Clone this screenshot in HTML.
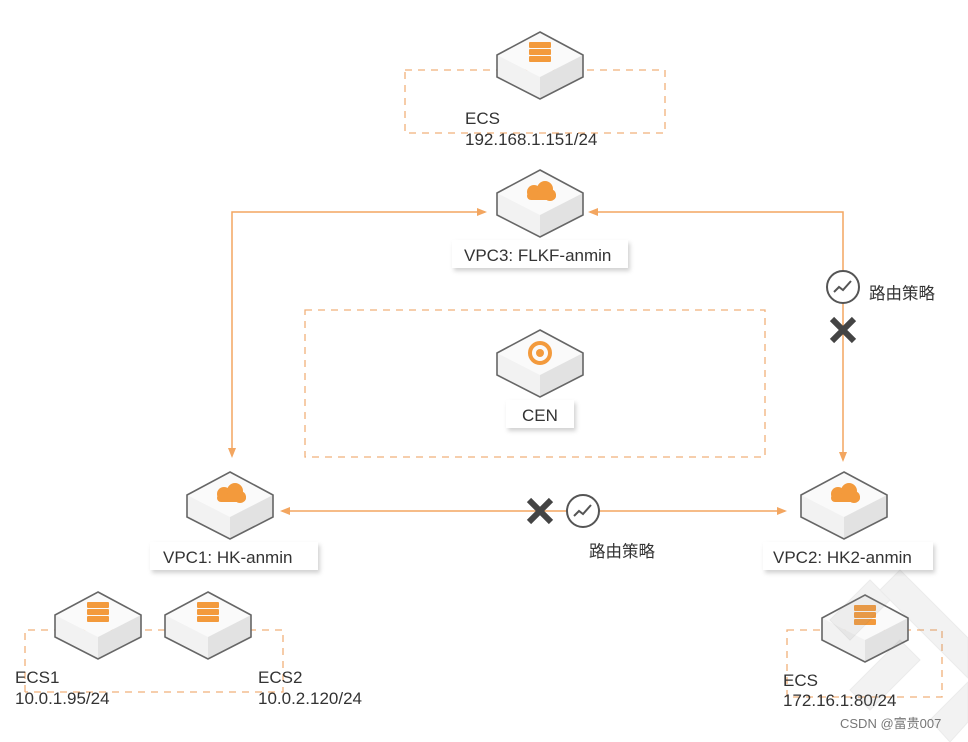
<!DOCTYPE html>
<html><head><meta charset="utf-8"><style>
html,body{margin:0;padding:0;background:#fff;}
svg{display:block;}
text{font-family:"Liberation Sans","Noto Sans CJK SC",sans-serif;fill:#333;}
</style></head><body>
<svg width="968" height="742" viewBox="0 0 968 742" xmlns="http://www.w3.org/2000/svg">
<defs>
<filter id="sh" x="-10%" y="-20%" width="130%" height="160%"><feDropShadow dx="2" dy="3" stdDeviation="2" flood-color="#000" flood-opacity="0.18"/></filter>
<g id="cube">
<path d="M-43,23 L0,45 L43,23 L0,0 Z" fill="#fafafa"/>
<path d="M0,45 L43,23 L43,45 L0,67 Z" fill="#e2e2e2"/>
<path d="M0,45 L-43,23 L-43,45 L0,67 Z" fill="#f2f2f2"/>
<path d="M0,0 L43,23 L43,45 L0,67 L-43,45 L-43,23 Z" fill="none" stroke="#666" stroke-width="1.6"/>
</g>
<g id="srv"><rect x="-11" y="10" width="22" height="6" rx="1" fill="#f39a3c"/><rect x="-11" y="17" width="22" height="6" rx="1" fill="#f39a3c"/><rect x="-11" y="24" width="22" height="6" rx="1" fill="#f39a3c"/></g>
<g id="cld"><circle cx="-6" cy="22" r="7" fill="#f39a3c"/><circle cx="5" cy="19" r="8" fill="#f39a3c"/><circle cx="10" cy="25" r="6" fill="#f39a3c"/><rect x="-13" y="22" width="29" height="8" rx="4" fill="#f39a3c"/></g>
</defs>
<g fill="none" stroke="#f0b07a" stroke-width="1.3" stroke-dasharray="7,6">
<rect x="405" y="70" width="260" height="63"/>
<rect x="305" y="310" width="460" height="147"/>
<path d="M25,692 L25,630 L283,630 L283,692 L25,692"/>
<rect x="787" y="630" width="155" height="67"/>
</g>
<g stroke="#f3a660" stroke-width="1.5" fill="none">
<path d="M232,455 L232,212 L485,212"/>
<path d="M590,212 L843,212 L843,460"/>
<path d="M282,511 L785,511"/>
</g>
<g fill="#f3a660">
<path d="M487,212 l-10,-4 l0,8 z"/><path d="M588,212 l10,-4 l0,8 z"/>
<path d="M232,458 l-4,-10 l8,0 z"/><path d="M843,462 l-4,-10 l8,0 z"/>
<path d="M280,511 l10,-4 l0,8 z"/><path d="M787,511 l-10,-4 l0,8 z"/>
</g>
<use href="#cube" x="540" y="32"/><use href="#srv" x="540" y="32"/>
<use href="#cube" x="540" y="170"/><use href="#cld" x="540" y="170"/>
<use href="#cube" x="540" y="330"/><circle cx="540" cy="353" r="10" fill="none" stroke="#f39a3c" stroke-width="4"/><circle cx="540" cy="353" r="4" fill="#f39a3c"/>
<use href="#cube" x="230" y="472"/><use href="#cld" x="230" y="472"/>
<use href="#cube" x="844" y="472"/><use href="#cld" x="844" y="472"/>
<use href="#cube" x="98" y="592"/><use href="#srv" x="98" y="592"/>
<use href="#cube" x="208" y="592"/><use href="#srv" x="208" y="592"/>
<use href="#cube" x="865" y="595"/><use href="#srv" x="865" y="595"/>
<g filter="url(#sh)" fill="#fff">
<rect x="452" y="240" width="176" height="28"/>
<rect x="506" y="400" width="68" height="28"/>
<rect x="150" y="542" width="168" height="28"/>
<rect x="763" y="542" width="170" height="28"/>
</g>
<g font-size="17">
<text x="465" y="124">ECS</text><text x="465" y="145">192.168.1.151/24</text>
<text x="464" y="261">VPC3: FLKF-anmin</text>
<text x="522" y="421">CEN</text>
<text x="163" y="563">VPC1: HK-anmin</text>
<text x="773" y="563">VPC2: HK2-anmin</text>
<text x="15" y="683">ECS1</text><text x="15" y="704">10.0.1.95/24</text>
<text x="258" y="683">ECS2</text><text x="258" y="704">10.0.2.120/24</text>
<text x="783" y="686">ECS</text><text x="783" y="706">172.16.1:80/24</text>
</g>
<g font-size="16.5">
<text x="869" y="299">路由策略</text>
<text x="589" y="557">路由策略</text>
</g>
<g stroke="#555" stroke-width="2" fill="#fff">
<circle cx="843" cy="287" r="16"/><circle cx="583" cy="511" r="16"/>
</g>
<g stroke="#555" stroke-width="2" fill="none">
<path d="M834,292 l5,-5 l4,3 l8,-9"/><path d="M574,516 l5,-5 l4,3 l8,-9"/>
</g>
<g stroke="#444" stroke-width="6">
<path d="M832,319 l22,22 M854,319 l-22,22"/>
<path d="M529,500 l22,22 M551,500 l-22,22"/>
</g>
<g fill="#999" opacity="0.12" stroke="#666" stroke-width="1">
<path d="M830,620 l40,-40 l20,20 l-40,40 z"/>
<path d="M880,590 l20,-20 l68,68 l0,40 z"/>
<path d="M850,690 l50,-50 l20,20 l-50,50 z"/>
<path d="M930,720 l38,-38 l0,40 l-18,20 z"/>
</g>
<text x="840" y="728" font-size="13" style="fill:#777">CSDN @富贵007</text>
</svg>
</body></html>
